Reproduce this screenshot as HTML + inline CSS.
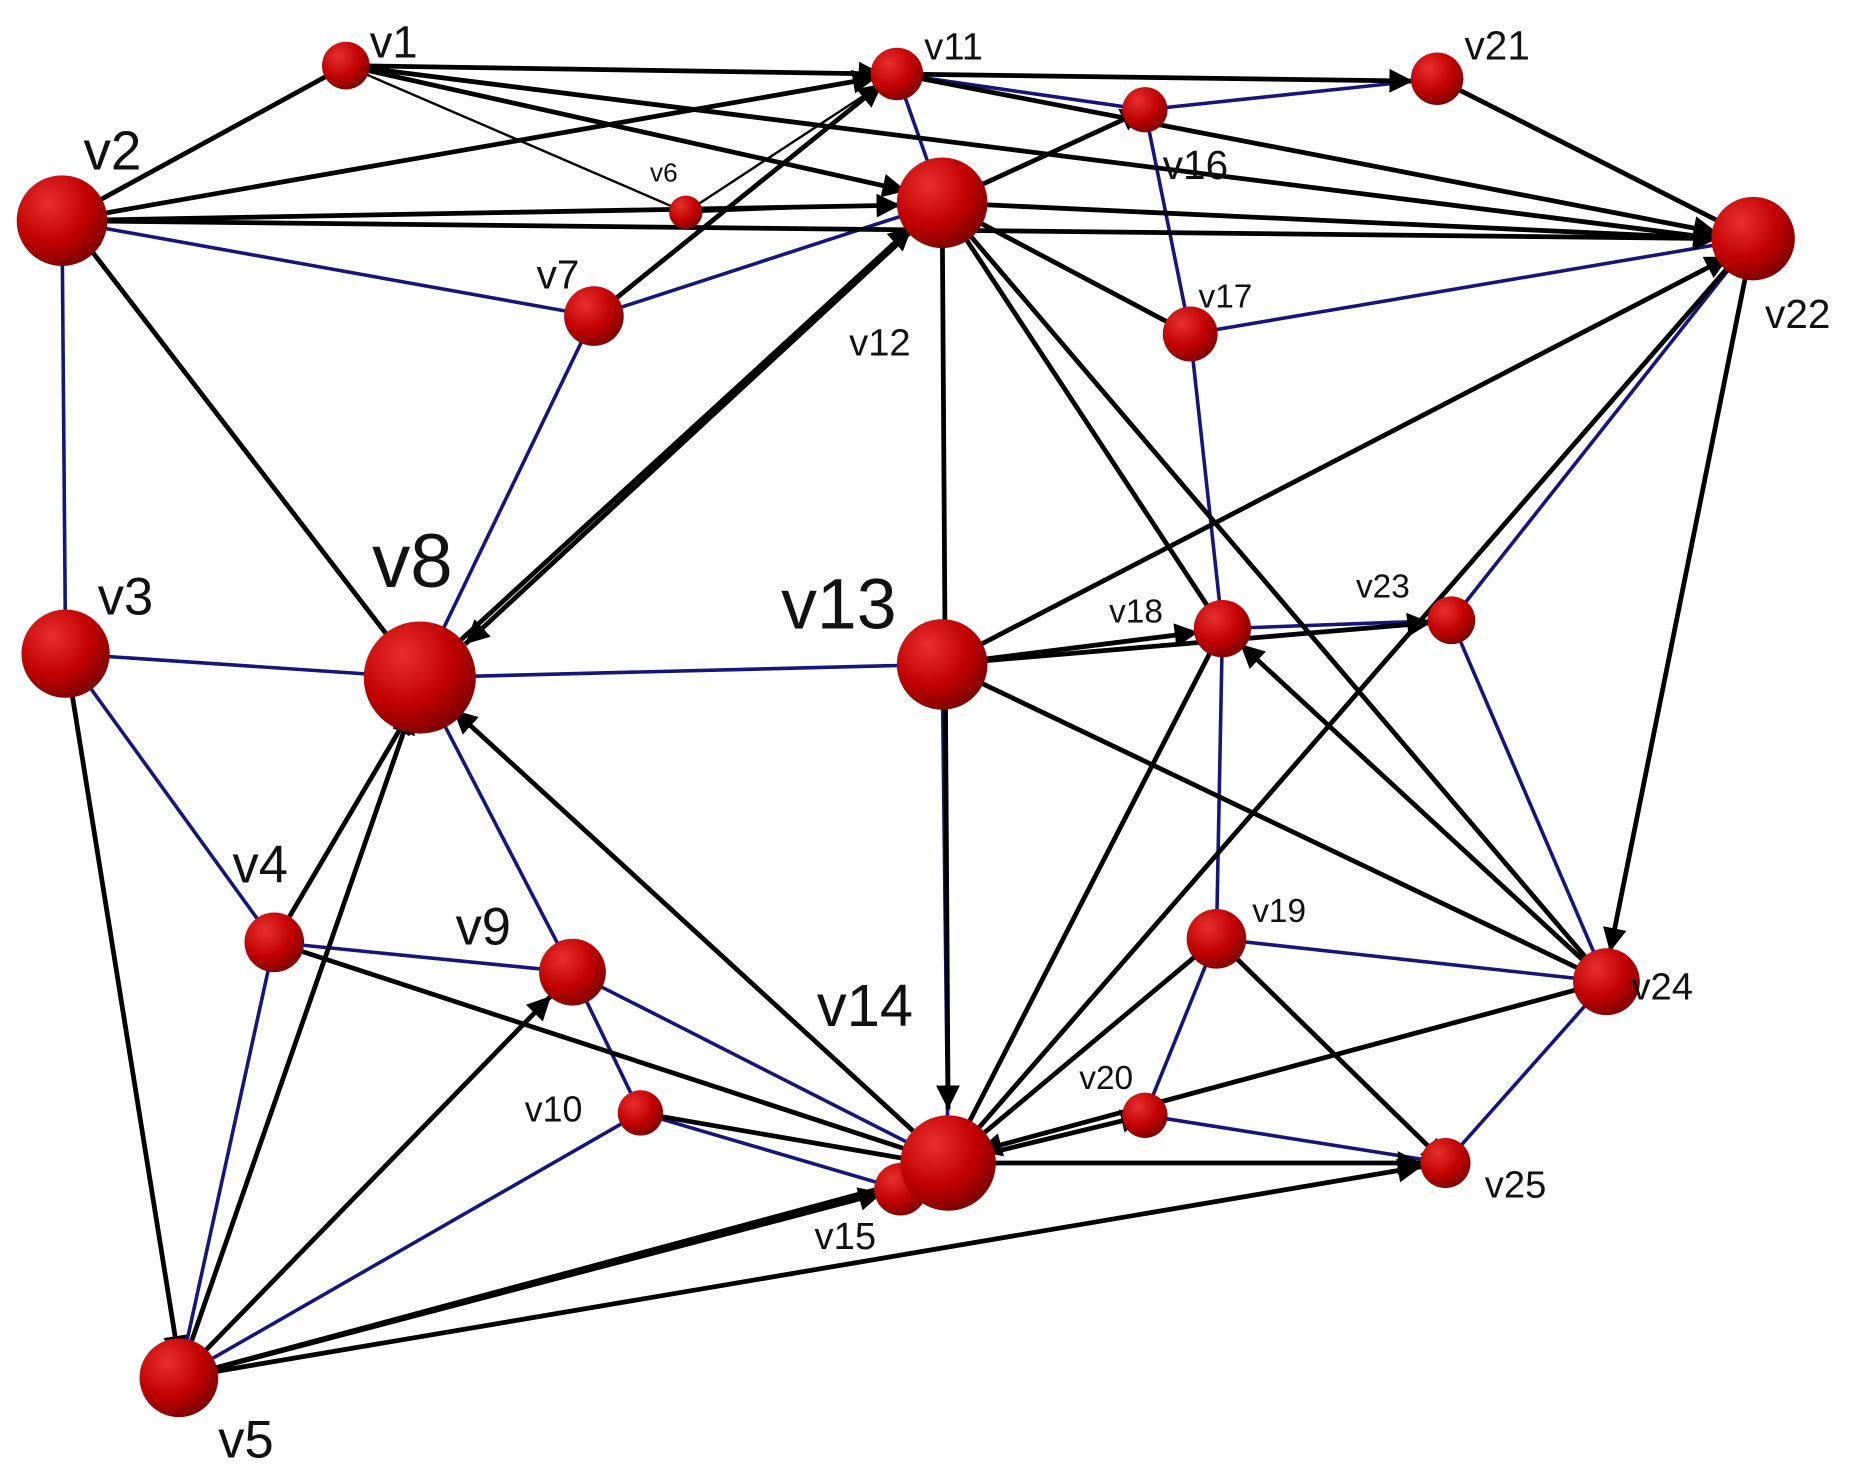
<!DOCTYPE html>
<html><head><meta charset="utf-8"><style>
html,body{margin:0;padding:0;background:#fff;}
svg{display:block}
text{font-family:"Liberation Sans",sans-serif;fill:#111}
</style></head><body>
<svg width="1870" height="1466" viewBox="0 0 1568 1229" preserveAspectRatio="none" xmlns="http://www.w3.org/2000/svg">
<defs>
<marker id="a" viewBox="0 0 10 10" refX="10" refY="5" markerWidth="5" markerHeight="5" orient="auto"><path d="M0,0L10,5L0,10z" fill="#000"/></marker>
<radialGradient id="g" cx="0.35" cy="0.3" r="0.75"><stop offset="0" stop-color="#e83030"/><stop offset="0.6" stop-color="#c00000"/><stop offset="1" stop-color="#7a0000"/></radialGradient>
</defs>
<g stroke="#15157a" stroke-width="3" fill="none">
<line x1="52" y1="185" x2="498" y2="265"/><line x1="52" y1="185" x2="55" y2="548"/>
<line x1="498" y1="265" x2="790" y2="170"/><line x1="498" y1="265" x2="352" y2="568"/>
<line x1="752" y1="62" x2="790" y2="170"/><line x1="752" y1="62" x2="960" y2="92"/>
<line x1="960" y1="92" x2="1205" y2="66"/><line x1="960" y1="92" x2="998" y2="280"/>
<line x1="998" y1="280" x2="1470" y2="200"/><line x1="998" y1="280" x2="1025" y2="527"/>
<line x1="1025" y1="527" x2="1020" y2="787"/>
<line x1="352" y1="568" x2="790" y2="557"/><line x1="55" y1="548" x2="352" y2="568"/>
<line x1="55" y1="548" x2="230" y2="790"/><line x1="790" y1="557" x2="795" y2="975"/>
<line x1="1470" y1="200" x2="1217" y2="520"/><line x1="1217" y1="520" x2="1347" y2="823"/>
<line x1="1347" y1="823" x2="1020" y2="787"/><line x1="1347" y1="823" x2="1212" y2="975"/>
<line x1="1020" y1="787" x2="960" y2="935"/><line x1="960" y1="935" x2="1212" y2="975"/>
<line x1="352" y1="568" x2="480" y2="815"/><line x1="230" y1="790" x2="480" y2="815"/>
<line x1="230" y1="790" x2="150" y2="1155"/><line x1="480" y1="815" x2="795" y2="975"/>
<line x1="480" y1="815" x2="537" y2="933"/><line x1="537" y1="933" x2="755" y2="997"/>
<line x1="150" y1="1155" x2="537" y2="933"/><line x1="1025" y1="527" x2="1217" y2="520"/>
</g>
<g stroke="#000" stroke-width="2" fill="none">
<line x1="290" y1="55" x2="575" y2="178"/><line x1="575" y1="178" x2="752" y2="62"/>
<line x1="575" y1="178" x2="790" y2="170"/>
</g>
<g stroke="#000" stroke-width="4" fill="none" marker-end="url(#a)">
<line x1="290" y1="55" x2="52" y2="185"/><line x1="290" y1="55" x2="740" y2="62"/>
<line x1="290" y1="55" x2="760" y2="160"/><line x1="290" y1="55" x2="1440" y2="200"/>
<line x1="52" y1="185" x2="735" y2="65"/><line x1="52" y1="185" x2="755" y2="172"/>
<line x1="52" y1="185" x2="1440" y2="200"/><line x1="352" y1="568" x2="65" y2="195"/>
<line x1="498" y1="265" x2="740" y2="70"/><line x1="752" y1="62" x2="1185" y2="68"/>
<line x1="752" y1="62" x2="1440" y2="195"/><line x1="790" y1="170" x2="960" y2="92"/>
<line x1="1470" y1="200" x2="1205" y2="66"/><line x1="790" y1="170" x2="1440" y2="200"/>
<line x1="790" y1="170" x2="998" y2="280"/><line x1="790" y1="170" x2="390" y2="540"/>
<line x1="352" y1="568" x2="765" y2="190"/><line x1="790" y1="170" x2="795" y2="930"/>
<line x1="790" y1="170" x2="1025" y2="527"/><line x1="790" y1="170" x2="1347" y2="823"/>
<line x1="790" y1="557" x2="1450" y2="215"/><line x1="790" y1="557" x2="1005" y2="530"/>
<line x1="790" y1="557" x2="1200" y2="522"/><line x1="790" y1="557" x2="1347" y2="823"/>
<line x1="1470" y1="200" x2="1350" y2="798"/><line x1="1470" y1="200" x2="795" y2="975"/>
<line x1="1347" y1="823" x2="1040" y2="540"/><line x1="1347" y1="823" x2="820" y2="965"/>
<line x1="795" y1="975" x2="1025" y2="527"/><line x1="795" y1="975" x2="1020" y2="787"/>
<line x1="795" y1="975" x2="960" y2="935"/><line x1="1020" y1="787" x2="1212" y2="975"/>
<line x1="795" y1="975" x2="1192" y2="975"/><line x1="795" y1="975" x2="380" y2="595"/>
<line x1="230" y1="790" x2="795" y2="975"/><line x1="230" y1="790" x2="345" y2="595"/>
<line x1="150" y1="1155" x2="345" y2="595"/><line x1="55" y1="548" x2="150" y2="1140"/>
<line x1="150" y1="1155" x2="462" y2="835"/><line x1="537" y1="933" x2="780" y2="975"/>
<line x1="150" y1="1155" x2="780" y2="985"/><line x1="150" y1="1155" x2="1192" y2="978"/>
<line x1="150" y1="1155" x2="740" y2="1000"/>
</g>
<g fill="url(#g)">
<circle cx="290" cy="55" r="20"/><circle cx="52" cy="185" r="38"/><circle cx="55" cy="548" r="37"/>
<circle cx="230" cy="790" r="25"/><circle cx="150" cy="1155" r="33"/><circle cx="575" cy="178" r="14"/>
<circle cx="498" cy="265" r="25"/><circle cx="352" cy="568" r="47"/><circle cx="480" cy="815" r="28"/>
<circle cx="537" cy="933" r="19"/><circle cx="752" cy="62" r="22"/><circle cx="790" cy="170" r="38"/>
<circle cx="790" cy="557" r="38"/><circle cx="755" cy="997" r="22"/><circle cx="795" cy="975" r="40"/>
<circle cx="960" cy="92" r="19"/><circle cx="998" cy="280" r="23"/><circle cx="1025" cy="527" r="24"/>
<circle cx="1020" cy="787" r="25"/><circle cx="960" cy="935" r="19"/><circle cx="1205" cy="66" r="22"/>
<circle cx="1470" cy="200" r="35"/><circle cx="1217" cy="520" r="20"/><circle cx="1347" cy="823" r="28"/>
<circle cx="1212" cy="975" r="21"/>
</g>
<text x="310" y="48" font-size="38">v1</text>
<text x="70" y="142" font-size="46">v2</text>
<text x="82" y="515" font-size="44">v3</text>
<text x="195" y="740" font-size="44">v4</text>
<text x="183" y="1222" font-size="44">v5</text>
<text x="545" y="152" font-size="22">v6</text>
<text x="450" y="242" font-size="34">v7</text>
<text x="312" y="492" font-size="64">v8</text>
<text x="382" y="792" font-size="44">v9</text>
<text x="440" y="940" font-size="30">v10</text>
<text x="775" y="50" font-size="32">v11</text>
<text x="712" y="298" font-size="32">v12</text>
<text x="655" y="527" font-size="60">v13</text>
<text x="685" y="860" font-size="50">v14</text>
<text x="683" y="1047" font-size="32">v15</text>
<text x="975" y="150" font-size="34">v16</text>
<text x="1005" y="258" font-size="28">v17</text>
<text x="930" y="522" font-size="28">v18</text>
<text x="1050" y="773" font-size="28">v19</text>
<text x="905" y="913" font-size="28">v20</text>
<text x="1228" y="50" font-size="34">v21</text>
<text x="1480" y="275" font-size="34">v22</text>
<text x="1137" y="501" font-size="28">v23</text>
<text x="1368" y="838" font-size="32">v24</text>
<text x="1245" y="1004" font-size="32">v25</text>
</svg>
</body></html>
